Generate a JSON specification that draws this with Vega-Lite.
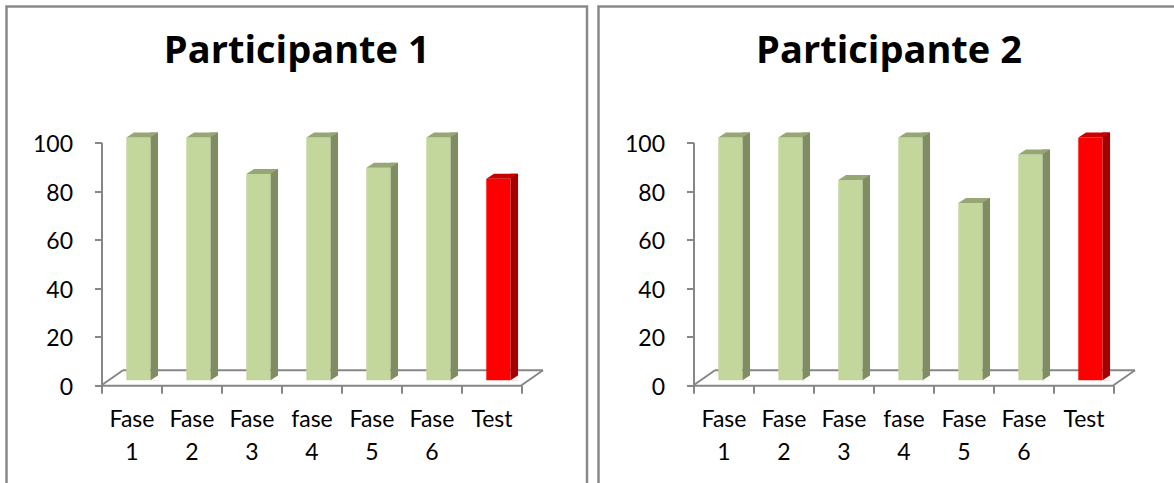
{
  "$schema": "https://vega.github.io/schema/vega-lite/v6.json",
  "padding": {"left": 4.5, "top": 4.5, "right": 0, "bottom": 0},
  "background": "white",
  "spacing": 8,
  "data": {"values": [
    {"participante": 1, "fase": "Fase 1", "valor": 100},
    {"participante": 1, "fase": "Fase 2", "valor": 100},
    {"participante": 1, "fase": "Fase 3", "valor": 85},
    {"participante": 1, "fase": "fase 4", "valor": 100},
    {"participante": 1, "fase": "Fase 5", "valor": 87.5},
    {"participante": 1, "fase": "Fase 6", "valor": 100},
    {"participante": 1, "fase": "Test", "valor": 83},
    {"participante": 2, "fase": "Fase 1", "valor": 100},
    {"participante": 2, "fase": "Fase 2", "valor": 100},
    {"participante": 2, "fase": "Fase 3", "valor": 82.5},
    {"participante": 2, "fase": "fase 4", "valor": 100},
    {"participante": 2, "fase": "Fase 5", "valor": 73},
    {"participante": 2, "fase": "Fase 6", "valor": 93},
    {"participante": 2, "fase": "Test", "valor": 100}
  ]},
  "hconcat": [
    {
      "width": 580.5, "height": 478.5,
      "title": {"text": "Participante 1", "font": "Open Sans", "fontSize": 38, "fontWeight": "bold", "color": "#000000", "anchor": "middle", "baseline": "alphabetic", "offset": -94},
      "transform": [{"filter": "datum.participante == 1"}],
      "encoding": {
        "x": {"field": "fase", "type": "nominal",
          "scale": {"domain": ["Fase 1", "Fase 2", "Fase 3", "fase 4", "Fase 5", "Fase 6", "Test"], "range": [95, 515], "paddingInner": 0, "paddingOuter": 0},
          "axis": {"title": null, "labelExpr": "split(datum.label, ' ')", "labelAngle": 0, "labelFont": "Lato", "labelFontSize": 23, "labelColor": "#000000", "labelLineHeight": 33, "labelPadding": 15, "labelOverlap": false, "labelBound": false, "tickBand": "extent", "tickSize": 8, "tickColor": "#868686", "tickWidth": 2, "domainColor": "#868686", "domainWidth": 2, "offset": -99.7, "grid": false}},
        "y": {"field": "valor", "type": "quantitative",
          "scale": {"domain": [0, 100], "range": [378.8, 136], "nice": false, "zero": false},
          "axis": {"title": null, "values": [0, 20, 40, 60, 80, 100], "labelFont": "Lato", "labelFontSize": 23, "labelColor": "#000000", "labelPadding": 22, "labelOffset": 2, "tickSize": 7, "tickColor": "#868686", "tickWidth": 2, "domainColor": "#868686", "domainWidth": 2, "offset": -95, "grid": false}}
      },
      "layer": [
        {"transform": [{"filter": "datum.fase == 'Test'"}],
         "mark": {"type": "rule", "color": "#868686", "strokeWidth": 2, "xOffset": -8.5, "x2Offset": 51.5, "yOffset": -15},
         "encoding": {"x": {"datum": "Fase 1"}, "x2": {"datum": "Test"}, "y": {"datum": 0}}},
        {"transform": [{"filter": "datum.fase == 'Test'"}],
         "mark": {"type": "rule", "color": "#868686", "strokeWidth": 2, "xOffset": -30, "x2Offset": -8.5, "y2Offset": -15},
         "encoding": {"x": {"datum": "Fase 1"}, "x2": {"datum": "Fase 1"}, "y": {"datum": 0}, "y2": {"datum": 0}}},
        {"transform": [{"filter": "datum.fase == 'Test'"}],
         "mark": {"type": "rule", "color": "#868686", "strokeWidth": 2, "xOffset": 30, "x2Offset": 51.5, "y2Offset": -15},
         "encoding": {"x": {"datum": "Test"}, "x2": {"datum": "Test"}, "y": {"datum": 0}, "y2": {"datum": 0}}},
        {"mark": {"type": "bar", "width": 7.7, "xOffset": 22.7, "yOffset": -10, "y2Offset": -5},
         "encoding": {"y2": {"datum": 0}, "fill": {"condition": {"test": "datum.fase == 'Test'", "value": "#a50000"}, "value": "#808c63"}}},
        {"mark": {"type": "bar", "width": 24, "xOffset": 6.8, "yOffset": -5, "y2Offset": -5},
         "encoding": {"y2": {"datum": 0}, "fill": {"condition": {"test": "datum.fase == 'Test'", "value": "#ff0000"}, "value": "#c3d69b"}}},
        {"mark": {"type": "point", "shape": "M-5.2,0L18.8,0L26.5,-5L2.5,-5Z", "size": 4, "filled": true, "opacity": 1, "strokeWidth": 0, "yOffset": -5},
         "encoding": {"fill": {"condition": {"test": "datum.fase == 'Test'", "value": "#c80000"}, "value": "#96a675"}}},
        {"mark": {"type": "point", "shape": "M18.6,-4.8L27.2,-4.8L27.2,-10.4Z", "size": 4, "filled": true, "opacity": 1, "strokeWidth": 0, "fill": "white"},
         "encoding": {"y": {"datum": 0}}}
      ]
    },
    {
      "width": 581, "height": 478.5,
      "title": {"text": "Participante 2", "font": "Open Sans", "fontSize": 38, "fontWeight": "bold", "color": "#000000", "anchor": "middle", "baseline": "alphabetic", "offset": -94},
      "transform": [{"filter": "datum.participante == 2"}],
      "encoding": {
        "x": {"field": "fase", "type": "nominal",
          "scale": {"domain": ["Fase 1", "Fase 2", "Fase 3", "fase 4", "Fase 5", "Fase 6", "Test"], "range": [95, 515], "paddingInner": 0, "paddingOuter": 0},
          "axis": {"title": null, "labelExpr": "split(datum.label, ' ')", "labelAngle": 0, "labelFont": "Lato", "labelFontSize": 23, "labelColor": "#000000", "labelLineHeight": 33, "labelPadding": 15, "labelOverlap": false, "labelBound": false, "tickBand": "extent", "tickSize": 8, "tickColor": "#868686", "tickWidth": 2, "domainColor": "#868686", "domainWidth": 2, "offset": -99.7, "grid": false}},
        "y": {"field": "valor", "type": "quantitative",
          "scale": {"domain": [0, 100], "range": [378.8, 136], "nice": false, "zero": false},
          "axis": {"title": null, "values": [0, 20, 40, 60, 80, 100], "labelFont": "Lato", "labelFontSize": 23, "labelColor": "#000000", "labelPadding": 22, "labelOffset": 2, "tickSize": 7, "tickColor": "#868686", "tickWidth": 2, "domainColor": "#868686", "domainWidth": 2, "offset": -95, "grid": false}}
      },
      "layer": [
        {"transform": [{"filter": "datum.fase == 'Test'"}],
         "mark": {"type": "rule", "color": "#868686", "strokeWidth": 2, "xOffset": -8.5, "x2Offset": 51.5, "yOffset": -15},
         "encoding": {"x": {"datum": "Fase 1"}, "x2": {"datum": "Test"}, "y": {"datum": 0}}},
        {"transform": [{"filter": "datum.fase == 'Test'"}],
         "mark": {"type": "rule", "color": "#868686", "strokeWidth": 2, "xOffset": -30, "x2Offset": -8.5, "y2Offset": -15},
         "encoding": {"x": {"datum": "Fase 1"}, "x2": {"datum": "Fase 1"}, "y": {"datum": 0}, "y2": {"datum": 0}}},
        {"transform": [{"filter": "datum.fase == 'Test'"}],
         "mark": {"type": "rule", "color": "#868686", "strokeWidth": 2, "xOffset": 30, "x2Offset": 51.5, "y2Offset": -15},
         "encoding": {"x": {"datum": "Test"}, "x2": {"datum": "Test"}, "y": {"datum": 0}, "y2": {"datum": 0}}},
        {"mark": {"type": "bar", "width": 7.7, "xOffset": 22.7, "yOffset": -10, "y2Offset": -5},
         "encoding": {"y2": {"datum": 0}, "fill": {"condition": {"test": "datum.fase == 'Test'", "value": "#a50000"}, "value": "#808c63"}}},
        {"mark": {"type": "bar", "width": 24, "xOffset": 6.8, "yOffset": -5, "y2Offset": -5},
         "encoding": {"y2": {"datum": 0}, "fill": {"condition": {"test": "datum.fase == 'Test'", "value": "#ff0000"}, "value": "#c3d69b"}}},
        {"mark": {"type": "point", "shape": "M-5.2,0L18.8,0L26.5,-5L2.5,-5Z", "size": 4, "filled": true, "opacity": 1, "strokeWidth": 0, "yOffset": -5},
         "encoding": {"fill": {"condition": {"test": "datum.fase == 'Test'", "value": "#c80000"}, "value": "#96a675"}}},
        {"mark": {"type": "point", "shape": "M18.6,-4.8L27.2,-4.8L27.2,-10.4Z", "size": 4, "filled": true, "opacity": 1, "strokeWidth": 0, "fill": "white"},
         "encoding": {"y": {"datum": 0}}}
      ]
    }
  ],
  "config": {
    "view": {"stroke": "#8a8a8a", "strokeWidth": 2.5, "strokeDash": [1060, 581, 600]}
  }
}
